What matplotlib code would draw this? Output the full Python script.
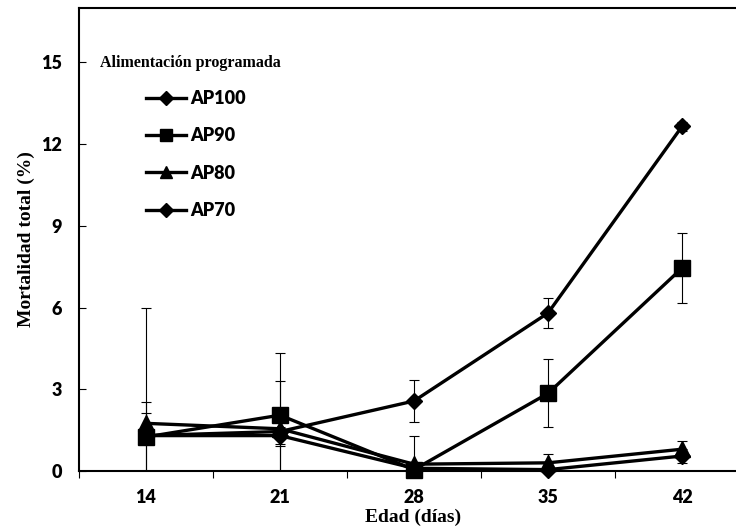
import matplotlib
matplotlib.use("Agg")
import matplotlib.pyplot as plt
from matplotlib.ticker import FixedLocator, MultipleLocator, NullFormatter

# Edad de los pollos (días) y mortalidad total (%) por programa de alimentación
dias = [14, 21, 28, 35, 42]
etiquetas = ["AP100", "AP90", "AP80", "AP70"]

ap100 = [1.30, 1.45, 2.57, 5.80, 12.65]
ap100_err = [4.70, 1.85, 0.77, 0.55, 0.15]
ap90 = [1.25, 2.05, 0.05, 2.85, 7.45]
ap90_err = [1.28, 2.30, 0.00, 1.25, 1.28]
ap80 = [1.75, 1.55, 0.25, 0.30, 0.80]
ap80_err = [0.38, 0.65, 1.03, 0.32, 0.30]
ap70 = [1.30, 1.30, 0.10, 0.05, 0.55]
ap70_err = [0.30, 0.30, 0.10, 0.10, 0.26]

yticks = [0, 3, 6, 9, 12, 15]

sans = ["Lato", "DejaVu Sans"]
serif = ["Liberation Serif", "DejaVu Serif"]

W, H = 736, 527
fig = plt.figure(figsize=(W / 100, H / 100), dpi=100)
# plot area: left spine at x=79 px, bottom at y=471 px, top at y=8 px
ax = fig.add_axes([79 / W, (H - 471) / H, 670 / W, 463 / H])

series = [
    (ap100, ap100_err, "D", 8.5),
    (ap90, ap90_err, "s", 11),
    (ap80, ap80_err, "^", 11),
    (ap70, ap70_err, "D", 8.5),
]

handles = []
for (vals, errs, mk, ms), lab in zip(series, etiquetas):
    ax.errorbar(dias, vals, yerr=errs, fmt="none", ecolor="black",
                elinewidth=0.8, capsize=3.6, capthick=0.8, zorder=2)
    ln, = ax.plot(dias, vals, color="black", lw=2.4, marker=mk, ms=ms,
                  mfc="black", mec="black", label=lab, clip_on=False, zorder=3)
    handles.append(ln)

ax.set_xlim(10.5, 45.5)
ax.set_ylim(0, 17)

ax.xaxis.set_major_locator(FixedLocator(dias))
ax.xaxis.set_minor_locator(MultipleLocator(7, offset=3.5))
ax.xaxis.set_minor_formatter(NullFormatter())
ax.yaxis.set_major_locator(FixedLocator(yticks))

ax.tick_params(axis="x", which="major", length=0, pad=13)
ax.tick_params(axis="x", which="minor", direction="out", length=5, width=0.8)
ax.tick_params(axis="y", which="major", direction="in", length=5, width=0.8, pad=12)

for lab in ax.get_xticklabels() + ax.get_yticklabels():
    lab.set_fontfamily(sans)
    lab.set_fontweight("heavy")
    lab.set_fontsize(13)

for sp in ax.spines.values():
    sp.set_linewidth(1.5)
    sp.set_color("black")

ax.set_xlabel("Edad (días)", fontfamily=serif, fontweight="bold", fontsize=14)
ax.xaxis.set_label_coords((413 - 79) / 670, (471 - 509) / 463)
ax.set_ylabel("Mortalidad total (%)", fontfamily=serif, fontweight="bold", fontsize=14)
ax.yaxis.set_label_coords((35 - 79) / 670, 0.5)

ax.text((100 - 79) / 670, (471 - 63) / 463, "Alimentación programada",
        transform=ax.transAxes, ha="left", va="center",
        fontfamily=serif, fontweight="bold", fontsize=11.5)

leg = ax.legend(handles=handles, loc="upper left",
                bbox_to_anchor=(146 / W, 1 - 90 / H), bbox_transform=fig.transFigure,
                frameon=False, borderpad=0, borderaxespad=0, markerscale=0.85,
                handlelength=2.2, handletextpad=0.25, labelspacing=1.13,
                prop={"family": sans, "weight": "heavy", "size": 13})

fig.savefig("out.png", dpi=100)
